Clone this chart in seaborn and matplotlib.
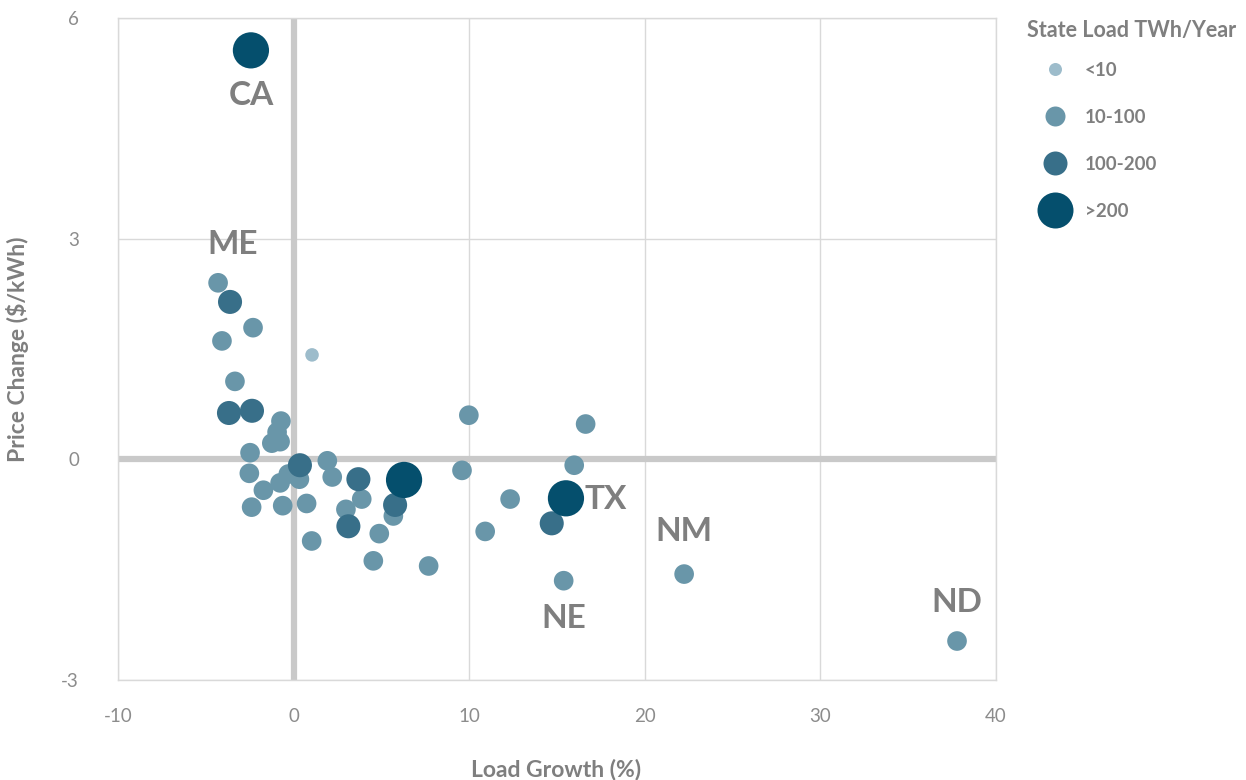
import matplotlib
matplotlib.use("Agg")
import matplotlib.pyplot as plt
from matplotlib.lines import Line2D
import seaborn as sns
import pandas as pd

# ---- data ----
load_growth = [-2.43, -4.30, -3.62, -2.31, -4.08, 1.05, -3.34, -3.68, -2.37, -0.72,
               -0.94, -1.24, -0.77, -2.48, -2.52, -1.72, -2.39, -0.62, -0.77, -0.30,
               0.36, 0.33, 0.74, 1.03, 1.92, 2.20, 3.69, 3.88, 2.98, 3.12,
               4.88, 4.54, 6.29, 5.78, 5.68, 7.69, 9.98, 9.59, 10.91, 12.33,
               16.63, 15.98, 15.51, 14.70, 15.38, 22.24, 37.78]
price_change = [5.56, 2.40, 2.14, 1.79, 1.61, 1.42, 1.06, 0.63, 0.66, 0.52,
                0.37, 0.22, 0.24, 0.09, -0.19, -0.42, -0.65, -0.63, -0.32, -0.20,
                -0.08, -0.27, -0.60, -1.11, -0.02, -0.24, -0.27, -0.54, -0.68, -0.91,
                -1.01, -1.38, -0.28, -0.62, -0.77, -1.45, 0.60, -0.15, -0.98, -0.54,
                0.48, -0.08, -0.53, -0.87, -1.65, -1.56, -2.47]
load_class = [">200", "10-100", "100-200", "10-100", "10-100", "<10", "10-100", "100-200", "100-200", "10-100",
              "10-100", "10-100", "10-100", "10-100", "10-100", "10-100", "10-100", "10-100", "10-100", "10-100",
              "100-200", "10-100", "10-100", "10-100", "10-100", "10-100", "100-200", "10-100", "10-100", "100-200",
              "10-100", "10-100", ">200", "100-200", "10-100", "10-100", "10-100", "10-100", "10-100", "10-100",
              "10-100", "10-100", ">200", "100-200", "10-100", "10-100", "10-100"]
class_order = ["<10", "10-100", "100-200", ">200"]
legend_title = "State Load TWh/Year"
state_labels = ["CA", "ME", "TX", "NM", "NE", "ND"]
state_label_xy = [(-2.43, 4.95), (-3.5, 2.92), (17.8, -0.55), (22.24, -0.98), (15.38, -2.17), (37.78, -1.94)]
x_ticks = [-10, 0, 10, 20, 30, 40]
y_ticks = [-3, 0, 3, 6]

palette = {"<10": "#9dbccb", "10-100": "#6996a9", "100-200": "#386f89", ">200": "#054f6d"}
sizes = {"<10": 95, "10-100": 200, "100-200": 300, ">200": 680}

df = pd.DataFrame({"x": load_growth, "y": price_change, "cls": load_class})
df["rank"] = df["cls"].map({c: i for i, c in enumerate(class_order)})
df = df.sort_values("rank", kind="stable")

sns.set_theme(style="white")
plt.rcParams["font.family"] = ["Lato", "DejaVu Sans"]
plt.rcParams["axes.unicode_minus"] = False

fig = plt.figure(figsize=(12.46, 7.8), dpi=100)
ax = fig.add_axes([118/1246, 1-680/780, (996-118)/1246, (680-18)/780])

gray = "#7f7f7f"
ax.set_xlim(-10, 40)
ax.set_ylim(-3, 6)
ax.set_xticks(x_ticks)
ax.set_yticks(y_ticks)
ax.grid(True, color="#d9d9d9", linewidth=1.0, zorder=0)
ax.set_axisbelow(True)
for s in ax.spines.values():
    s.set_color("#d9d9d9")
    s.set_linewidth(1.0)
ax.axhline(0, color="#c9c9c9", linewidth=4.5, zorder=1)
ax.axvline(0, color="#c9c9c9", linewidth=4.5, zorder=1)

sns.scatterplot(data=df, x="x", y="y", hue="cls", size="cls", palette=palette,
                sizes=sizes, hue_order=class_order, size_order=class_order,
                linewidth=0, alpha=1, legend=False, ax=ax, zorder=3)
ax.set_xlabel("")
ax.set_ylabel("")

for lab, (lx, ly) in zip(state_labels, state_label_xy):
    ax.text(lx, ly, lab, ha="center", va="center", fontsize=24, fontweight="bold", color=gray, zorder=4)

ax.tick_params(axis="both", length=0, labelsize=13.5, labelcolor="#8c8c8c")
ax.tick_params(axis="x", pad=20)
ax.tick_params(axis="y", pad=28)

fig.text(556/1246, 1-770/780, "Load Growth (%)", ha="center", va="center",
         fontsize=16.5, fontweight="bold", color=gray)
fig.text(18/1246, 1-349/780, "Price Change ($/kWh)", ha="center", va="center",
         rotation=90, fontsize=16.5, fontweight="bold", color=gray)

# legend
fig.text(1027/1246, 1-30/780, legend_title, ha="left", va="center",
         fontsize=15.5, fontweight="bold", color=gray)
leg_diam_px = {"<10": 13, "10-100": 20, "100-200": 24, ">200": 36}
handles = [Line2D([], [], marker="o", linestyle="", markerfacecolor=palette[c], markeredgewidth=0,
                  markersize=leg_diam_px[c]*0.72) for c in class_order]
leg = fig.legend(handles, class_order, loc="center left",
                 bbox_to_anchor=(1033/1246, 1-141/780), frameon=False, labelspacing=1.6,
                 handletextpad=0.43, fontsize=13.5, borderpad=0, borderaxespad=0,
                 handlelength=2.35)
for t in leg.get_texts():
    t.set_fontweight("bold")
    t.set_color(gray)

fig.savefig("out.png", dpi=100)
